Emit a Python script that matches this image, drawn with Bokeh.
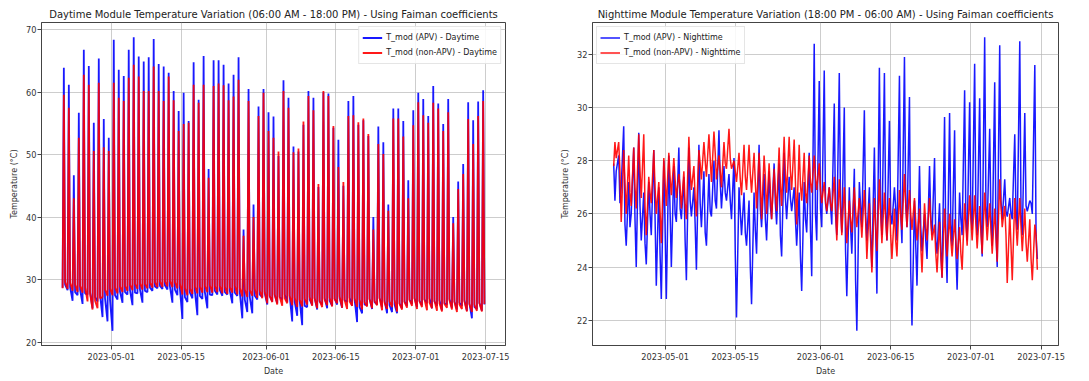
import numpy as np
import pandas as pd
from bokeh.plotting import figure
from bokeh.layouts import row
from bokeh.models import Range1d, FixedTicker, DatetimeTickFormatter, ColumnDataSource
from bokeh.embed import file_html
from bokeh.resources import INLINE

# ---------------- data ----------------
day_start = "2023-04-21"      # first daytime window (06:00-18:00)
night_start = "2023-04-20"    # first night window starts 18:00 this day

day_apv_peak = [63.9, 61.2, 46.7, 56.7, 66.8, 64.2, 55.1, 65.4, 55.7, 52.7,
                68.4, 63.6, 62.6, 66.8, 68.8, 65.7, 64.9, 65.6, 68.5, 64.5,
                64.1, 63.1, 60.2, 57.0, 59.9, 55.4, 64.8, 58.8, 65.8, 47.7,
                65.1, 65.1, 64.4, 61.4, 62.8, 65.6, 38.0, 60.5, 42.0, 57.7,
                60.5, 56.8, 56.1, 49.8, 61.9, 59.1, 51.3, 50.5, 54.8, 60.2,
                59.1, 44.8, 60.0, 59.8, 54.3, 52.4, 45.0, 58.6, 59.4, 54.8,
                55.5, 53.0, 40.0, 54.5, 52.0, 42.0, 57.4, 57.4, 55.4, 45.9,
                57.1, 59.9, 58.9, 56.2, 61.0, 58.2, 54.9, 58.9, 40.0, 45.7,
                48.5, 58.4, 55.5, 58.5, 60.3]
day_nonapv_peak = [59.6, 57.5, 43.0, 52.7, 62.8, 61.2, 50.6, 61.5, 51.2, 50.6,
                   61.5, 59.1, 58.6, 62.3, 64.4, 62.5, 60.2, 60.2, 64.1, 60.2,
                   58.6, 62.5, 58.7, 53.8, 54.9, 55.1, 61.2, 58.3, 61.2, 46.3,
                   61.0, 61.4, 61.1, 58.7, 59.3, 62.0, 37.0, 58.6, 40.0, 56.2,
                   59.9, 53.8, 52.7, 50.5, 60.2, 57.5, 50.4, 51.0, 55.3, 59.4,
                   57.1, 45.3, 60.2, 59.4, 54.6, 48.0, 45.6, 56.2, 56.3, 55.2,
                   55.8, 53.3, 38.0, 51.7, 50.1, 41.0, 55.8, 55.8, 52.9, 43.0,
                   54.7, 58.4, 56.3, 55.1, 58.3, 57.4, 53.8, 56.8, 39.0, 44.5,
                   46.9, 55.7, 51.7, 56.2, 58.6]
day_apv_0600 = [28.7, 28.3, 26.6, 27.5, 26.1, 27.6, 25.4, 26.5, 24.0, 23.3,
                21.8, 26.8, 26.3, 27.6, 25.9, 27.8, 26.3, 28.0, 28.2, 28.6,
                28.5, 28.4, 26.3, 27.5, 23.7, 26.4, 27.0, 24.3, 26.9, 25.4,
                27.5, 27.6, 27.4, 27.6, 26.2, 27.4, 23.8, 24.8, 24.6, 26.8,
                27.2, 26.0, 26.5, 26.2, 26.8, 26.4, 23.3, 24.2, 22.7, 25.6,
                25.9, 25.2, 26.0, 25.4, 25.8, 26.0, 25.5, 26.4, 25.8, 23.2,
                24.6, 25.9, 25.3, 26.0, 25.6, 24.6, 24.8, 24.6, 25.4, 25.8,
                26.1, 25.6, 25.9, 26.2, 25.4, 25.8, 25.1, 26.0, 25.5, 25.2,
                25.8, 25.0, 23.8, 25.3, 25.0]
day_apv_1800 = [29.2, 28.8, 28.0, 28.4, 27.8, 28.0, 27.2, 27.6, 27.0, 26.8,
                27.5, 28.1, 28.0, 28.3, 27.9, 28.4, 28.2, 28.7, 28.9, 29.0,
                29.1, 28.9, 28.4, 28.6, 27.2, 27.9, 28.2, 27.4, 28.0, 27.6,
                28.2, 28.3, 28.0, 28.2, 27.9, 28.0, 26.8, 27.2, 27.4, 27.6,
                27.8, 27.3, 27.5, 27.2, 27.6, 27.3, 26.4, 26.6, 25.8, 26.8,
                27.0, 26.5, 27.0, 26.6, 26.9, 27.0, 26.7, 27.1, 26.8, 25.6,
                26.0, 26.9, 26.4, 27.0, 26.6, 25.9, 26.0, 26.2, 26.5, 26.8,
                27.0, 26.6, 26.8, 27.0, 26.5, 26.7, 26.2, 26.9, 26.5, 26.3,
                26.7, 26.2, 25.6, 26.3, 26.0]
day_nonapv_0600 = [28.6, 28.5, 28.2, 28.0, 27.9, 26.5, 25.2, 25.4, 27.2, 27.4,
                   27.5, 27.8, 28.0, 28.2, 28.3, 28.5, 28.4, 28.6, 28.7, 28.8,
                   28.8, 28.9, 28.8, 28.6, 27.6, 27.5, 27.7, 27.8, 27.9, 28.0,
                   27.9, 28.0, 27.8, 27.7, 27.9, 27.6, 27.3, 27.2, 27.4, 27.1,
                   27.0, 26.2, 26.4, 26.0, 25.8, 26.2, 25.9, 25.6, 25.7, 26.0,
                   25.8, 25.4, 25.6, 25.9, 25.7, 26.2, 25.5, 25.3, 25.8, 25.6,
                   25.2, 25.7, 25.4, 25.9, 25.1, 25.3, 25.6, 24.9, 25.2, 25.5,
                   25.8, 25.3, 25.6, 25.1, 25.4, 25.0, 24.9, 25.5, 25.2, 24.8,
                   25.3, 24.9, 24.8, 25.0, 24.9]
day_nonapv_1800 = [29.6, 29.5, 29.2, 29.0, 28.8, 27.8, 26.6, 27.0, 28.4, 28.6,
                   28.7, 28.9, 29.0, 29.2, 29.3, 29.4, 29.3, 29.5, 29.6, 29.7,
                   29.7, 29.8, 29.6, 29.4, 28.7, 28.6, 28.9, 28.9, 29.0, 29.1,
                   29.0, 29.0, 28.9, 28.8, 29.0, 28.7, 28.4, 28.3, 28.5, 28.2,
                   28.1, 27.4, 27.6, 27.2, 27.0, 27.4, 27.1, 26.8, 26.9, 27.2,
                   27.0, 26.6, 26.8, 27.1, 26.9, 27.3, 26.7, 26.5, 27.0, 26.8,
                   26.4, 26.9, 26.6, 27.1, 26.3, 26.5, 26.8, 26.1, 26.4, 26.7,
                   27.0, 26.5, 26.8, 26.3, 26.6, 26.2, 26.1, 26.7, 26.4, 26.0,
                   26.5, 26.1, 26.0, 26.2, 26.1]

night_apv_1800 = [27.9, 28.2, 29.3, 27.2, 28.5, 29.05, 26.8, 27.2, 28.4, 27.0,
                  28.0, 28.2, 27.8, 28.5, 27.4, 28.5, 27.0, 28.6, 27.6, 27.5,
                  28.0, 29.15, 27.8, 27.5, 28.1, 27.0, 26.8, 26.5, 26.8, 28.6,
                  27.5, 27.6, 27.9, 27.9, 28.3, 27.4, 27.0, 26.8, 27.2, 28.3,
                  32.4, 31.0, 31.4, 27.0, 30.15, 31.3, 30.0, 27.0, 27.7, 27.2,
                  29.9, 27.0, 28.5, 31.5, 31.3, 29.5, 27.0, 31.2, 31.9, 30.4,
                  26.5, 27.8, 26.0, 27.8, 28.1, 26.4, 29.65, 29.8, 29.15, 26.8,
                  30.65, 30.2, 31.65, 30.35, 32.65, 29.2, 30.95, 32.35, 27.3, 26.6,
                  29.0, 32.5, 29.8, 26.5, 31.6]
night_apv_0000 = [26.5, 26.4, 25.6, 25.5, 25.8, 26.3, 24.9, 26.0, 25.9, 24.5,
                  25.5, 26.1, 26.0, 26.2, 25.0, 26.5, 25.6, 26.4, 25.3, 26.1,
                  26.5, 27.2, 26.8, 26.5, 24.5, 26.1, 25.3, 24.0, 25.4, 26.2,
                  25.8, 26.3, 26.4, 25.2, 26.6, 26.6, 25.8, 24.4, 25.8, 25.4,
                  26.0, 26.2, 26.4, 26.3, 26.0, 26.3, 24.6, 25.5, 23.5, 26.3,
                  26.0, 25.2, 25.5, 26.2, 26.1, 26.0, 26.2, 26.0, 26.4, 23.8,
                  24.8, 25.5, 25.0, 25.8, 25.0, 24.6, 24.8, 25.6, 24.6, 25.8,
                  25.8, 26.0, 26.0, 25.6, 26.3, 25.8, 25.3, 26.5, 26.1, 26.0,
                  26.0, 26.0, 26.3, 26.4, 25.2]
night_apv_0600 = [27.6, 27.0, 24.8, 26.0, 24.0, 25.0, 24.1, 25.2, 23.3, 22.8,
                  22.8, 24.0, 25.7, 25.8, 23.5, 25.9, 23.9, 25.5, 24.8, 25.9,
                  26.2, 26.2, 26.5, 25.8, 22.1, 25.2, 24.8, 22.6, 24.5, 25.5,
                  25.0, 25.8, 25.6, 24.4, 25.8, 26.1, 24.8, 23.1, 25.3, 23.65,
                  25.0, 25.5, 26.0, 25.6, 25.2, 25.3, 22.9, 24.5, 21.6, 25.5,
                  25.0, 24.0, 23.0, 25.2, 25.0, 25.6, 25.0, 24.9, 25.5, 21.8,
                  23.3, 24.6, 24.3, 25.2, 24.5, 23.6, 23.4, 24.8, 23.15, 25.2,
                  25.0, 25.4, 25.2, 24.4, 25.5, 24.8, 24.0, 25.8, 25.9, 25.8,
                  25.4, 25.2, 26.1, 26.0, 24.3]
night_nonapv_1800 = [27.8, 28.7, 28.4, 28.2, 28.5, 29.0, 29.0, 27.4, 28.4, 27.2,
                     28.1, 28.3, 28.1, 27.5, 27.6, 28.9, 27.8, 28.4, 28.7, 29.0,
                     29.1, 28.2, 28.7, 29.2, 28.0, 28.3, 28.6, 28.6, 28.3, 28.3,
                     28.2, 27.9, 27.7, 28.5, 28.9, 28.9, 28.8, 28.6, 28.3, 28.2,
                     28.2, 27.9, 27.2, 27.0, 27.4, 27.3, 27.0, 26.5, 27.0, 26.6,
                     26.9, 26.4, 26.6, 27.3, 26.8, 26.6, 26.2, 26.9, 27.5, 26.9,
                     26.6, 26.2, 26.4, 26.6, 25.6, 25.7, 26.2, 26.0, 25.8, 25.5,
                     26.4, 26.7, 26.7, 26.3, 26.8, 26.4, 26.2, 27.3, 26.3, 26.0,
                     26.6, 26.6, 26.2, 25.8, 25.6]
night_nonapv_0000 = [28.7, 27.6, 27.2, 26.8, 27.0, 27.6, 26.3, 26.8, 27.0, 26.1,
                     27.2, 27.4, 27.3, 27.0, 26.4, 27.6, 26.6, 27.9, 28.0, 28.1,
                     28.3, 27.6, 27.9, 28.1, 27.6, 27.3, 27.4, 27.5, 27.2, 27.2,
                     27.4, 26.9, 26.8, 27.1, 27.5, 27.6, 27.2, 27.1, 26.8, 27.2,
                     27.4, 26.9, 26.5, 26.4, 26.2, 26.3, 26.0, 25.8, 26.1, 25.9,
                     25.8, 25.0, 25.6, 26.0, 25.8, 25.2, 25.0, 26.0, 26.4, 26.0,
                     25.7, 24.8, 25.6, 25.8, 24.5, 24.4, 25.2, 25.0, 25.0, 24.5,
                     25.6, 25.8, 25.6, 25.3, 25.8, 25.4, 25.2, 26.3, 25.2, 24.8,
                     25.6, 25.5, 24.9, 24.3, 25.2]
night_nonapv_0600 = [28.1, 25.7, 26.0, 26.3, 26.2, 26.6, 25.2, 26.4, 26.0, 24.9,
                     26.3, 26.7, 26.6, 26.2, 25.8, 26.9, 25.9, 27.3, 27.4, 27.2,
                     27.3, 27.0, 27.7, 27.7, 27.2, 26.7, 26.9, 26.8, 26.2, 25.8,
                     26.0, 25.8, 26.1, 26.3, 26.8, 26.9, 25.6, 26.5, 26.4, 26.8,
                     26.9, 26.4, 26.1, 26.1, 25.0, 25.2, 24.9, 25.3, 25.5, 25.1,
                     24.3, 23.8, 24.6, 24.9, 25.0, 24.3, 24.4, 25.4, 25.5, 25.4,
                     25.0, 23.8, 25.0, 25.0, 23.8, 23.6, 24.4, 24.4, 24.3, 23.9,
                     24.8, 25.0, 24.7, 24.5, 25.0, 24.5, 24.2, 25.5, 23.4, 23.5,
                     24.8, 24.6, 24.2, 23.5, 23.9]

x_tick_labels = ["2023-05-01", "2023-05-15", "2023-06-01", "2023-06-15", "2023-07-01", "2023-07-15"]
day_y_ticks = [20, 30, 40, 50, 60, 70]
night_y_ticks = [22, 24, 26, 28, 30, 32]

day_title = "Daytime Module Temperature Variation (06:00 AM - 18:00 PM) - Using Faiman coefficients"
night_title = "Nighttime Module Temperature Variation (18:00 PM - 06:00 AM) - Using Faiman coefficients"

# ---------------- build time series ----------------
def to_ms(arr):
    return arr.astype("datetime64[ms]").astype("int64").astype(float)

day_base = pd.date_range(day_start, periods=len(day_apv_peak), freq="D").values
day_offs = np.array([6, 12, 18], dtype="timedelta64[h]")
day_x = to_ms((day_base[:, None] + day_offs[None, :]).ravel())
day_apv = np.column_stack([day_apv_0600, day_apv_peak, day_apv_1800]).ravel()
day_non = np.column_stack([day_nonapv_0600, day_nonapv_peak, day_nonapv_1800]).ravel()

night_base = pd.date_range(night_start, periods=len(night_apv_1800), freq="D").values
night_offs = np.array([18, 24, 30], dtype="timedelta64[h]")
night_x = to_ms((night_base[:, None] + night_offs[None, :]).ravel())
night_apv = np.column_stack([night_apv_1800, night_apv_0000, night_apv_0600]).ravel()
night_non = np.column_stack([night_nonapv_1800, night_nonapv_0000, night_nonapv_0600]).ravel()

x_ticks = list(to_ms(pd.to_datetime(x_tick_labels).values))

FONT = "DejaVu Sans"
HEIGHT = 378

def padded(lo, hi, frac=0.05):
    span = hi - lo
    return Range1d(lo - frac * span, hi + frac * span)

def make_fig(title, width, mbl, mbr, x, y1, y2, yticks, label1, label2, legend_loc, lw):
    xr = padded(x.min(), x.max())
    yr = padded(min(y1.min(), y2.min()), max(y1.max(), y2.max()))
    p = figure(width=width, height=HEIGHT, x_axis_type="datetime", x_range=xr, y_range=yr,
               output_backend="svg", toolbar_location=None, title=title,
               min_border_left=mbl, min_border_right=mbr, min_border_top=22, min_border_bottom=HEIGHT - 346)
    p.title.text_font = FONT
    p.title.text_font_size = "10px"
    p.title.text_font_style = "normal"
    p.title.text_color = "#222222"
    p.title.align = "center"
    p.title.standoff = 6
    p.background_fill_color = "white"
    p.border_fill_color = "white"
    p.outline_line_color = "#444444"
    p.outline_line_width = 1

    p.xaxis.ticker = FixedTicker(ticks=x_ticks)
    p.xaxis.formatter = DatetimeTickFormatter(
        microseconds="%Y-%m-%d", milliseconds="%Y-%m-%d", seconds="%Y-%m-%d",
        minsec="%Y-%m-%d", minutes="%Y-%m-%d", hourmin="%Y-%m-%d", hours="%Y-%m-%d",
        days="%Y-%m-%d", months="%Y-%m-%d", years="%Y-%m-%d")
    p.yaxis.ticker = FixedTicker(ticks=yticks)
    p.xgrid.ticker = FixedTicker(ticks=x_ticks)
    p.ygrid.ticker = FixedTicker(ticks=yticks)
    for g in (p.xgrid[0], p.ygrid[0]):
        g.grid_line_color = "#b0b0b0"
        g.grid_line_alpha = 0.8
        g.grid_line_width = 0.8
    p.xaxis.axis_label = "Date"
    p.yaxis.axis_label = "Temperature (°C)"
    for ax in (p.xaxis[0], p.yaxis[0]):
        ax.major_tick_in = 0
        ax.major_tick_out = 4
        ax.minor_tick_in = 0
        ax.minor_tick_out = 0
        ax.major_tick_line_color = "#444444"
        ax.axis_line_color = "#444444"
        ax.major_label_text_font = FONT
        ax.major_label_text_font_size = "8.2px"
        ax.major_label_text_color = "#333333"
        ax.axis_label_text_font = FONT
        ax.axis_label_text_font_size = "8px"
        ax.axis_label_text_font_style = "normal"
        ax.axis_label_text_color = "#333333"
    p.xaxis.major_label_standoff = 3
    p.yaxis.major_label_standoff = 1
    p.xaxis.axis_label_standoff = 4
    p.yaxis.axis_label_standoff = 4

    s1 = ColumnDataSource(dict(x=x, y=y1))
    s2 = ColumnDataSource(dict(x=x, y=y2))
    p.line("x", "y", source=s1, color="blue", line_width=lw, line_alpha=0.9, legend_label=label1)
    p.line("x", "y", source=s2, color="red", line_width=lw, line_alpha=0.9, legend_label=label2)

    lg = p.legend[0]
    lg.location = legend_loc
    lg.margin = 4
    lg.padding = 3
    lg.spacing = 0
    lg.glyph_width = 20
    lg.glyph_height = 15
    lg.label_height = 15
    lg.label_standoff = 4
    lg.label_text_font = FONT
    lg.label_text_font_size = "8px"
    lg.label_text_color = "#222222"
    lg.border_line_color = "#cccccc"
    lg.border_line_width = 1
    lg.background_fill_alpha = 0.85
    return p

p1 = make_fig(day_title, 548, 41, 43, day_x, day_apv, day_non, day_y_ticks,
              "T_mod (APV) - Daytime", "T_mod (non-APV) - Daytime", "top_right", 1.8)
p2 = make_fig(night_title, 538, 44, 28, night_x, night_apv, night_non, night_y_ticks,
              "T_mod (APV) - Nighttime", "T_mod (non-APV) - Nighttime", "top_left", 1.5)

layout = row(p1, p2)
open("out.html", "w").write(file_html(layout, INLINE))
